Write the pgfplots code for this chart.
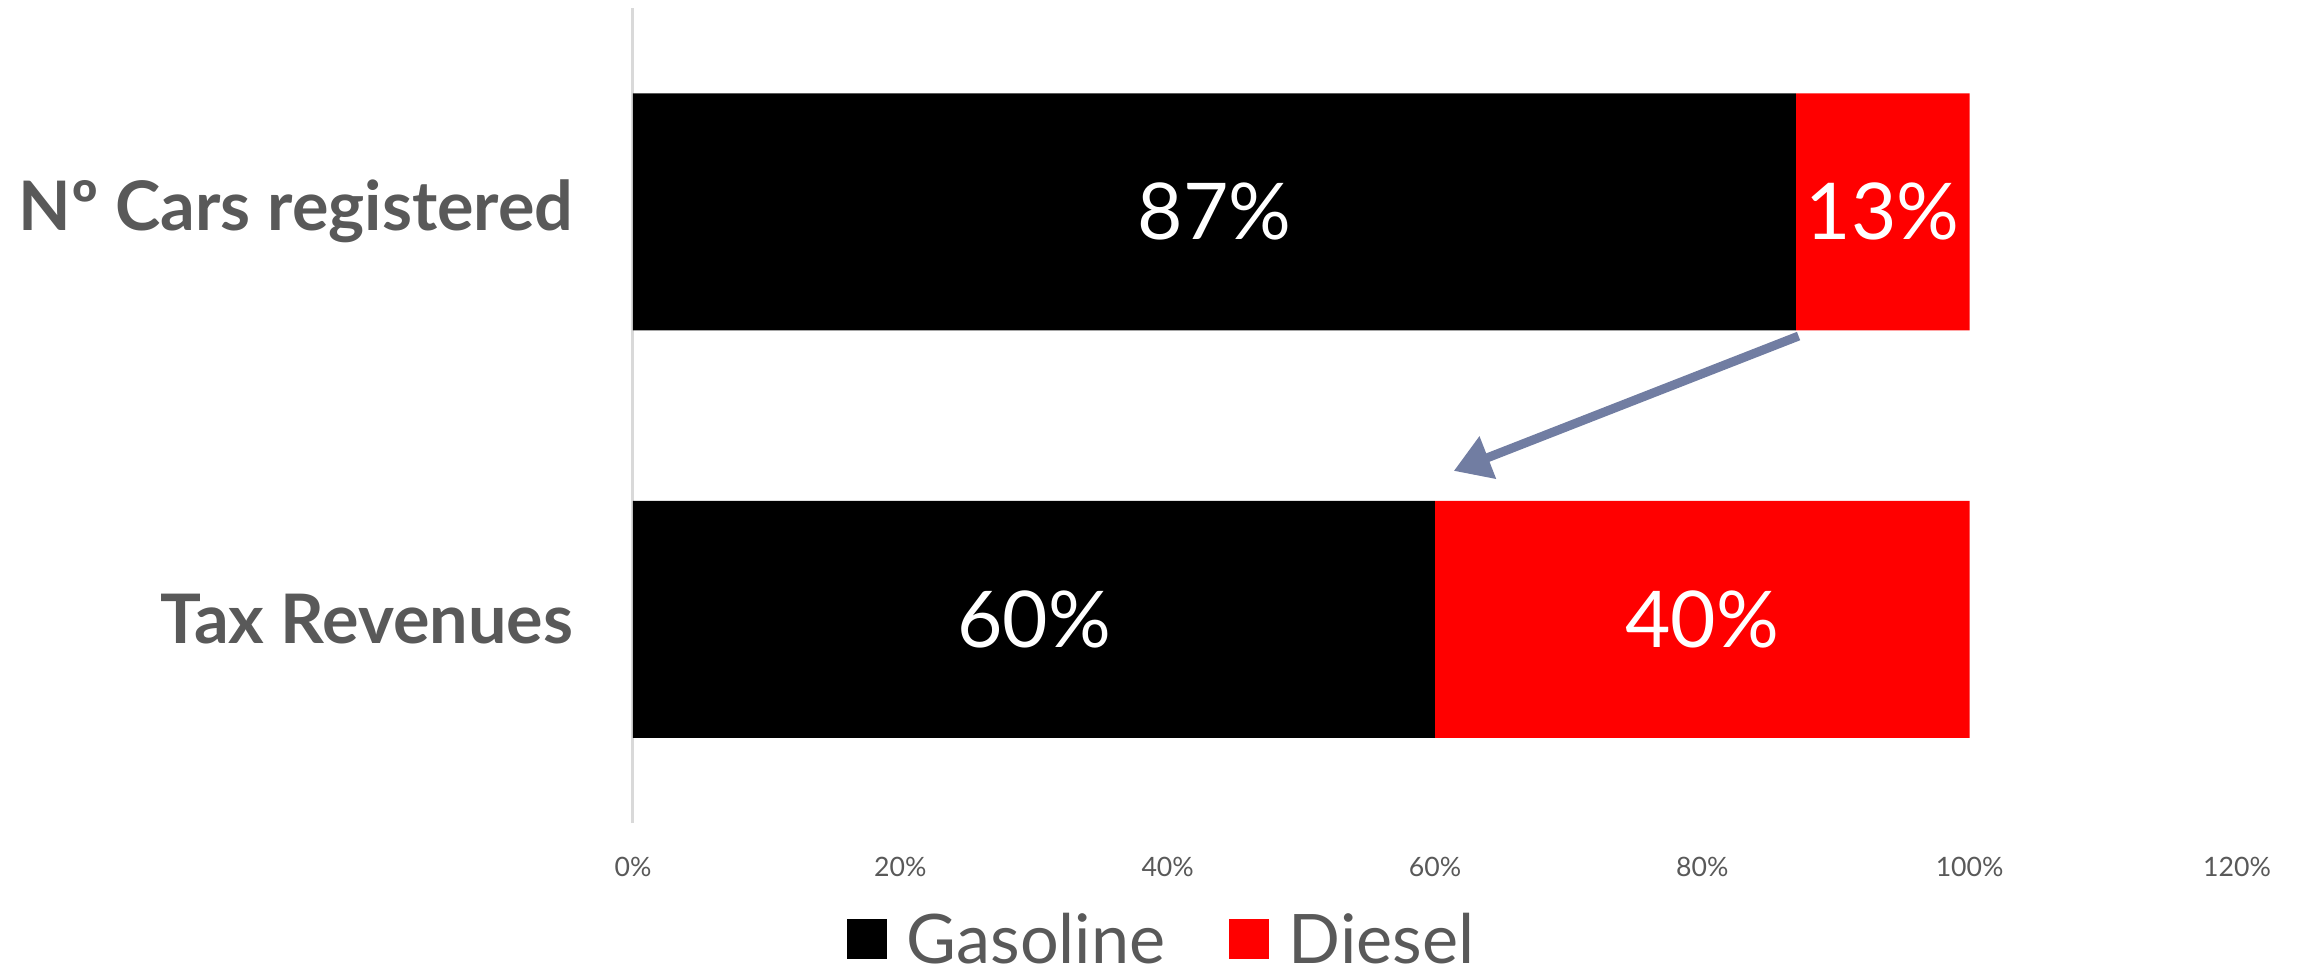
\documentclass[border=0pt]{standalone}
\usepackage{fontspec}
\setmainfont{Lato}
\usepackage{pgfplots}
\pgfplotsset{compat=1.18}
\usetikzlibrary{arrows.meta}
\definecolor{txtgray}{HTML}{595959}
\definecolor{arrowc}{HTML}{717DA2}
\definecolor{axgray}{HTML}{D9D9D9}
\begin{document}
\begin{tikzpicture}
\begin{axis}[
  scale only axis, width=481.2pt, height=244.5pt,
  xbar stacked, bar width=71.1pt,
  xmin=0, xmax=120, ymin=-0.5, ymax=1.5,
  xtick={0,20,...,120},
  xticklabel={\pgfmathprintnumber{\tick}\%},
  ytick={0,1},
  yticklabels={Tax Revenues, Nº Cars registered},
  major tick length=0pt,
  axis lines*=left,
  x axis line style={draw=none},
  y axis line style={draw=axgray, line width=0.9pt},
  xticklabel style={font=\fontsize{8}{9}\selectfont, text=txtgray, anchor=center, yshift=-13.2pt},
  yticklabel style={font=\fontsize{20.5}{24}\selectfont\bfseries, text=txtgray, anchor=east, inner sep=0pt, xshift=-17.7pt},
  /pgf/number format/assume math mode=true,
  point meta=explicit,
  nodes near coords={\pgfmathprintnumber{\pgfplotspointmeta}\%},
  every node near coord/.append style={font=\fontsize{23.5}{28}\selectfont, text=white, anchor=center},
  legend style={at={(0.3289,-0.142)}, anchor=center, draw=none, legend columns=2,
    font=\fontsize{20.5}{24}\selectfont, text=txtgray,
    nodes={inner sep=0pt, text depth=0pt},
    /tikz/every odd column/.append style={column sep=6pt},
    /tikz/every even column/.append style={column sep=19pt}},
  legend image code/.code={\fill[#1] (0pt,-6pt) rectangle (12pt,6pt);},
  clip=false,
]
\addplot[fill=black, draw=none] coordinates {(60,0) [60] (87,1) [87]};
\addplot[fill=red, draw=none] coordinates {(40,0) [40] (13,1) [13]};
\legend{Gasoline, Diesel}
\draw[arrowc, line width=2.7pt, -{Triangle[length=11pt,width=13pt]}] (axis cs:87.2,0.695) -- (axis cs:61.4,0.364);
\end{axis}
\pgfresetboundingbox
\path[use as bounding box] (-189.9pt,-45.9pt) rectangle (501pt,246.9pt);
\end{tikzpicture}
\end{document}
